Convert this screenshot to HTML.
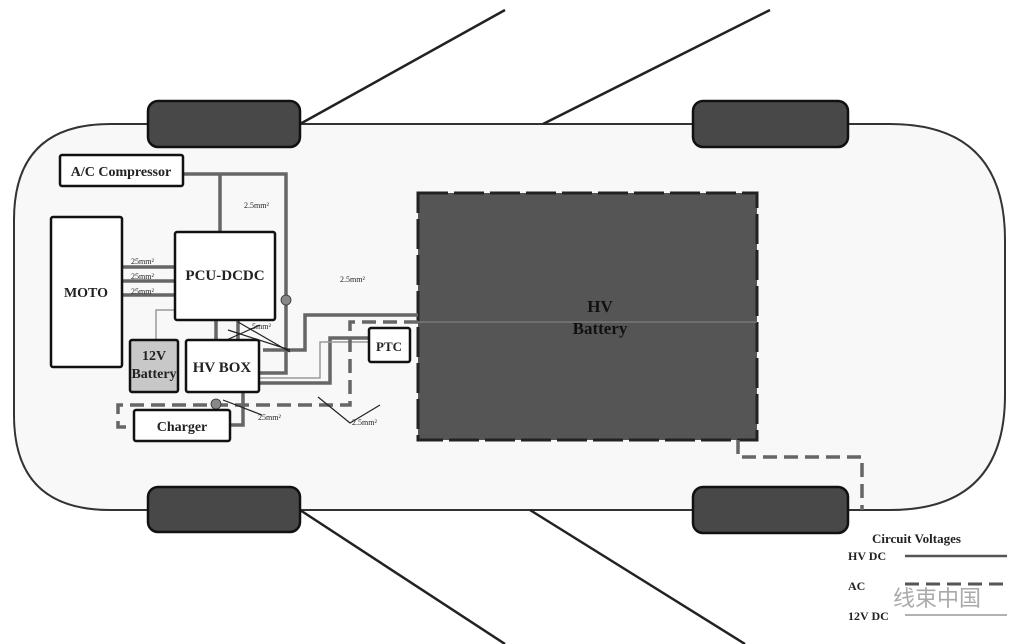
<!DOCTYPE html>
<html><head><style>
html,body{margin:0;padding:0;background:#fff;}
svg{display:block;}
text{font-family:"Liberation Serif",serif;fill:#222;}
</style></head><body>
<svg width="1022" height="644" viewBox="0 0 1022 644" xmlns="http://www.w3.org/2000/svg">
<rect width="1022" height="644" fill="#fff"/>
<!-- car body -->
<path d="M110,124 L890,124 Q1005,124 1005,240 L1005,395 Q1005,510 890,510 L110,510 Q14,510 14,415 L14,220 Q14,124 110,124 Z" fill="#f8f8f8" stroke="#333" stroke-width="2"/>
<!-- diagonal lines -->
<g stroke="#222" stroke-width="2.5">
<line x1="300" y1="124" x2="505" y2="10"/>
<line x1="543" y1="124" x2="770" y2="10"/>
<line x1="300" y1="510" x2="505" y2="644"/>
<line x1="530" y1="510" x2="745" y2="644"/>
</g>
<!-- wheels -->
<g fill="#484848" stroke="#111" stroke-width="2.5">
<rect x="148" y="101" width="152" height="46" rx="10"/>
<rect x="693" y="101" width="155" height="46" rx="10"/>
<rect x="148" y="487" width="152" height="45" rx="10"/>
<rect x="693" y="487" width="155" height="46" rx="10"/>
</g>
<!-- HV battery -->
<rect x="418" y="193" width="339" height="247" fill="#555" stroke="#222" stroke-width="3" stroke-dasharray="30,6"/>
<text x="600" y="312" font-size="17" font-weight="bold" text-anchor="middle" style="fill:#111">HV</text>
<text x="600" y="334" font-size="17" font-weight="bold" text-anchor="middle" style="fill:#111">Battery</text>
<line x1="418" y1="322" x2="757" y2="322" stroke="#777" stroke-width="1.5"/>
<!-- HV DC wires -->
<g stroke="#666" stroke-width="3.5" fill="none">
<path d="M183,174 L286,174 L286,373 L259,373"/>
<path d="M220,174 L220,232"/>
<path d="M259,383 L330,383 L330,338 L369,338"/>
<path d="M263,350 L305,350 L305,315 L418,315"/>
<path d="M216,320 L216,340"/>
<path d="M238,320 L238,340"/>
<path d="M122,267 L175,267 M122,281 L175,281 M122,295 L175,295"/>
<path d="M243,392 L243,425 L230,425"/>
</g>
<g stroke="#999" stroke-width="1.5" fill="none">
<path d="M175,310 L156,310 L156,340"/>
<path d="M259,378 L320,378 L320,342 L369,342"/>
</g>
<!-- AC dashed -->
<g stroke="#666" stroke-width="3.5" fill="none" stroke-dasharray="14,7">
<path d="M418,322 L350,322 L350,405 L118,405 L118,427 L134,427"/>
<path d="M738,440 L738,457 L862,457 L862,510"/>
</g>
<!-- thin black wires with x markers -->
<g stroke="#222" stroke-width="1.2" fill="none">
<path d="M228,330 L290,350 M238,322 L290,352 M222,342 L260,325"/>
<path d="M223,400 L262,415 M318,397 L350,423 L380,405"/>
</g>
<g fill="#888" stroke="#333" stroke-width="0.8">
<circle cx="286" cy="300" r="5"/>
<circle cx="216" cy="404" r="5"/>
</g>
<!-- boxes -->
<g stroke="#111" stroke-width="2.5">
<rect x="60" y="155" width="123" height="31" rx="2" fill="#fff"/>
<rect x="51" y="217" width="71" height="150" rx="2" fill="#fff"/>
<rect x="175" y="232" width="100" height="88" rx="2" fill="#fff"/>
<rect x="130" y="340" width="48" height="52" rx="2" fill="#c8c8c8"/>
<rect x="186" y="340" width="73" height="52" rx="2" fill="#fff"/>
<rect x="134" y="410" width="96" height="31" rx="2" fill="#fff"/>
<rect x="369" y="328" width="41" height="34" rx="2" fill="#fff"/>
</g>
<text x="121" y="176" font-size="14" font-weight="bold" text-anchor="middle">A/C Compressor</text>
<text x="86" y="297" font-size="14" font-weight="bold" text-anchor="middle">MOTO</text>
<text x="225" y="280" font-size="15" font-weight="bold" text-anchor="middle">PCU-DCDC</text>
<text x="154" y="360" font-size="14" font-weight="bold" text-anchor="middle">12V</text>
<text x="154" y="378" font-size="14" font-weight="bold" text-anchor="middle">Battery</text>
<text x="222" y="372" font-size="15" font-weight="bold" text-anchor="middle">HV BOX</text>
<text x="182" y="431" font-size="14" font-weight="bold" text-anchor="middle">Charger</text>
<text x="389" y="351" font-size="13" font-weight="bold" text-anchor="middle">PTC</text>
<g font-size="8">
<text x="244" y="208">2.5mm²</text>
<text x="340" y="282">2.5mm²</text>
<text x="131" y="264">25mm²</text>
<text x="131" y="279">25mm²</text>
<text x="131" y="294">25mm²</text>
<text x="250" y="329">.5mm²</text>
<text x="258" y="420">25mm²</text>
<text x="352" y="425">2.5mm²</text>
</g>
<!-- legend -->
<text x="872" y="543" font-size="13" font-weight="bold">Circuit Voltages</text>
<text x="848" y="560" font-size="12" font-weight="bold">HV DC</text>
<line x1="905" y1="556" x2="1007" y2="556" stroke="#555" stroke-width="2.5"/>
<text x="848" y="590" font-size="12" font-weight="bold">AC</text>
<line x1="905" y1="584" x2="1007" y2="584" stroke="#555" stroke-width="3" stroke-dasharray="14,7"/>
<text x="848" y="620" font-size="12" font-weight="bold">12V DC</text>
<line x1="905" y1="615" x2="1007" y2="615" stroke="#999" stroke-width="1.5"/>
<text x="893" y="606" font-size="22" style="font-family:'Liberation Sans','Noto Sans CJK SC',sans-serif;fill:#aaa">线束中国</text>
</svg>
</body></html>
